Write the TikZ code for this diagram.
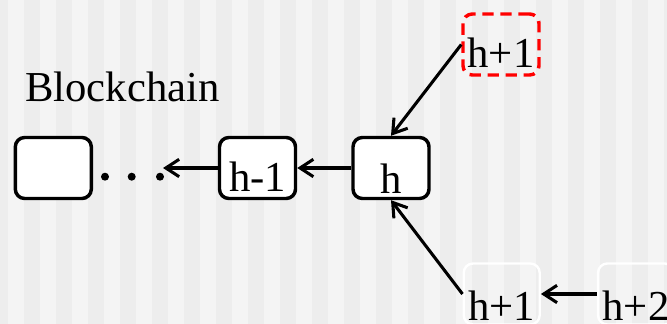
\documentclass[tikz,border=0pt]{standalone}
\usepackage{fontspec}
\setmainfont{Liberation Serif}
\usetikzlibrary{arrows.meta}
\definecolor{stripeA}{HTML}{F4F4F4}
\definecolor{stripeB}{HTML}{EDEDED}
\tikzset{
  blk/.style={draw, line width=2.6pt, rounded corners=7pt, minimum width=57pt,
    text height=40.5pt, text depth=5.25pt, inner sep=0pt, fill=white,
    font=\fontsize{32}{36}\selectfont},
  blkh/.style={blk, text height=42pt, text depth=3.75pt},
  redblk/.style={blk, draw=red, fill=none, dash pattern=on 8.5pt off 5pt},
  ghost/.style={blk, draw=white, fill=none, line width=1.8pt, text height=42.75pt, text depth=3pt},
  link/.style={line width=2.3pt, -{Straight Barb[length=10pt,width=13pt,line width=2.3pt]}},
  lbl/.style={inner sep=0pt, font=\fontsize{32}{36}\selectfont}
}
\begin{document}
\begin{tikzpicture}[x=0.75pt,y=-0.75pt]
\useasboundingbox (0,0) rectangle (667,324);
\clip (0,0) rectangle (667,324);
\fill[stripeA] (0,0) rectangle (667,324);
\foreach \k in {0,...,21}{
  \fill[stripeB] ({32*\k-8},0) rectangle ({32*\k+8},324);
}
\node[lbl, anchor=base west] (title) at (25,101.7) {Blockchain};
\node[blk] (b0) at (53.3,168) {};
\node[blk] (hm1) at (257.5,168) {h-1};
\node[blkh] (h) at (391,168) {h};
\node[redblk] (red) at (501,44.5) {h+1};
\node[ghost] (hp1) at (501.7,294) {h+1};
\node[ghost] (hp2) at (636,294) {h+2};
\fill (105,176.7) circle (4);
\fill (131.7,176.7) circle (4);
\fill (160,176.7) circle (4);
\coordinate (dotsend) at (163,168);
\draw[link] (hm1.west) -- (dotsend);
\draw[link] (h.west) -- (hm1.east);
\draw[link] (red.west) -- (h.north);
\draw[link] (hp1.west) -- (h.south);
\draw[link] (hp2.west) -- (hp1.east);
\end{tikzpicture}
\end{document}
